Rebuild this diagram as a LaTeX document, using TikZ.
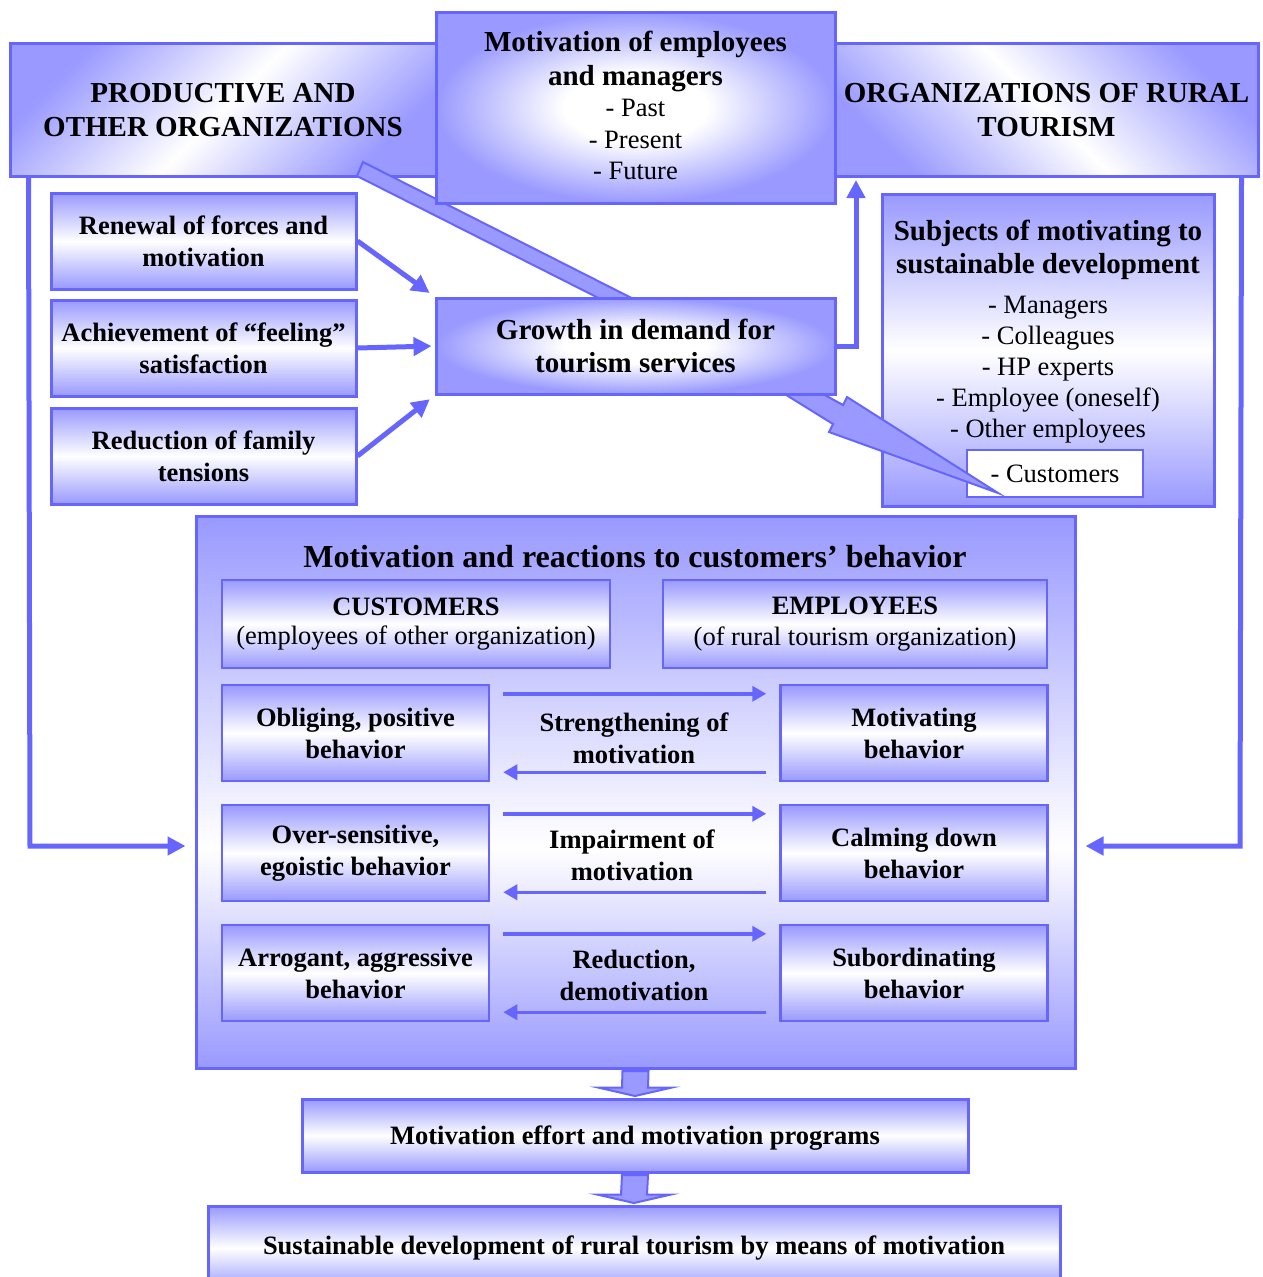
\documentclass[tikz,border=0pt]{standalone}
\usepackage{fontspec}
\setmainfont{Liberation Serif}
\usetikzlibrary{arrows.meta,calc}
\definecolor{bstroke}{RGB}{102,102,255}
\definecolor{bfill}{RGB}{153,153,255}
\pgfdeclareradialshading{softradial}{\pgfpoint{0bp}{0bp}}{color(0bp)=(white); color(9bp)=(white); color(25bp)=(bfill); color(50bp)=(bfill)}
\pgfdeclareverticalshading{bigvert}{100bp}{color(0bp)=(bfill); color(25bp)=(bfill); color(45bp)=(white); color(75bp)=(bfill); color(100bp)=(bfill)}
\newcommand{\natsp}{\spaceskip=\fontdimen2\font\relax\xspaceskip=\fontdimen2\font\relax}
\newcommand{\fHead}{\fontsize{29}{33.5}\selectfont\bfseries\natsp}
\newcommand{\fBody}{\fontsize{26.5}{32}\selectfont\bfseries\natsp}
\newcommand{\fReg}{\fontsize{26.5}{31}\selectfont\mdseries\natsp}
\begin{document}
\begin{tikzpicture}[x=1pt,y=-1pt,
  box/.style={draw=bstroke, line width=3pt, inner sep=0pt, align=center},
  vbox/.style={box, top color=bfill, bottom color=bfill, middle color=white},
  rbox/.style={box, shade, shading=softradial},
  rowbox/.style={vbox, line width=2.5pt, minimum width=267pt, minimum height=96pt, font=\fBody},
  midtext/.style={inner sep=0pt, align=center, font=\fBody},
  conn/.style={draw=bstroke, line width=5pt, -{Triangle[length=18pt,width=18pt]}},
  thinconn/.style={draw=bstroke, line width=3.5pt, -{Triangle[length=14pt,width=15pt]}},
  bandstyle/.style={draw=bstroke, line width=2pt, fill=bfill, line join=miter},
]
\useasboundingbox (0,0) rectangle (1263,1277);

\coordinate (lturn) at (30,846);
\coordinate (rturn) at (1240,846);
\coordinate (gturn) at (856,346);

% top side boxes
\node[box, shade, top color=bfill, bottom color=bfill, middle color=white, shading angle=45,
      minimum width=426pt, minimum height=133pt, font=\fHead] (ltop) at (223,110)
      {PRODUCTIVE AND\\OTHER ORGANIZATIONS};
\node[box, shade, top color=bfill, bottom color=bfill, middle color=white, shading angle=-45,
      minimum width=423pt, minimum height=133pt, font=\fHead] (rtop) at (1046.5,110)
      {ORGANIZATIONS OF RURAL\\TOURISM};

% wide band from left box to growth box
\draw[bandstyle] (363,162) -- (675,320) -- (642,320) -- (357,176) -- cycle;

% centre top box
\node[rbox, minimum width=399pt, minimum height=191pt] (mtop) at (635.5,107.5) {};
\node[anchor=north, inner sep=0pt, text width=390pt, align=center] (mtoptext) at (635.5,31)
  {{\fHead Motivation of employees\\and managers\par}{\fontsize{26.5}{31.5}\selectfont\natsp - Past\\- Present\\- Future\par}};

% left small boxes
\node[vbox, minimum width=305pt, minimum height=96pt, font=\fBody] (renew) at (203.5,241) {Renewal of forces and\\motivation};
\node[vbox, minimum width=305pt, minimum height=96pt, font=\fBody] (ach) at (203.5,348) {Achievement of “feeling”\\satisfaction};
\node[vbox, minimum width=305pt, minimum height=96pt, font=\fBody] (redu) at (203.5,456) {Reduction of family\\tensions};

% subjects box
\node[vbox, minimum width=332pt, minimum height=312pt] (subj) at (1048,350) {};
\node[anchor=north, inner sep=0pt, text width=325pt, align=center] (subjtext) at (1048,220)
  {{\fontsize{29}{33}\selectfont\bfseries\natsp Subjects of motivating to\\sustainable development\par}\vspace{9pt}{\fReg - Managers\\- Colleagues\\- HP experts\\- Employee (oneself)\\- Other employees\par}};
\node[box, line width=2pt, fill=white, minimum width=176pt, minimum height=47pt, font=\fReg] (cust) at (1055,473.5) {- Customers};

% lightning arrow from growth box to customers
\draw[bandstyle] (775,388) -- (833,424) -- (829,432) -- (998,493) -- (847,397) -- (843,405) -- (812,388) -- cycle;

% growth box
\node[rbox, minimum width=399pt, minimum height=96pt, font=\fHead] (growth) at (635.5,346) {Growth in demand for\\tourism services};

% arrows into growth
\draw[conn, shorten >=6pt] (renew.east) -- (growth.north west);
\draw[conn, shorten >=3pt] (ach.east) -- (growth.west);
\draw[conn, shorten >=6pt] (redu.east) -- (growth.south west);
\draw[conn, shorten >=2pt] (growth.east) -- (gturn) -- (gturn |- rtop.south);

% big box
\node[box, shade, shading=bigvert, minimum width=879pt, minimum height=552pt] (big) at (635.5,792) {};
\node[anchor=base, inner sep=0pt, font=\fontsize{32}{38}\selectfont\bfseries] (bigtitle) at (635,567) {Motivation and reactions to customers’ behavior};

% outer side connectors
\draw[conn, shorten >=9pt] ([xshift=20pt]ltop.south west) -- (lturn) -- (big.west |- lturn);
\draw[conn, shorten >=9pt] ([xshift=-18pt]rtop.south east) -- (rturn) -- (big.east |- rturn);

\node[vbox, line width=2.5pt, minimum width=388pt, minimum height=88pt, text width=380pt] (custh) at (416,624)
  {{\fBody CUSTOMERS\par}{\fontsize{26.5}{29.5}\selectfont\natsp (employees of other organization)\par}};
\node[vbox, line width=2.5pt, minimum width=384pt, minimum height=88pt, text width=376pt] (emph) at (855,624)
  {{\fBody EMPLOYEES\par}{\fontsize{26.5}{31}\selectfont\natsp (of rural tourism organization)\par}};

\node[rowbox] (obl) at (355.5,733) {Obliging, positive\\behavior};
\node[rowbox] (motb) at (914,733) {Motivating\\behavior};
\node[midtext] (strt) at (634,738) {Strengthening of\\motivation};

\node[rowbox] (over) at (355.5,853) {Over-sensitive,\\egoistic behavior};
\node[rowbox] (calm) at (914,853) {Calming down\\behavior};
\node[midtext] (imp) at (632,855) {Impairment of\\motivation};

\node[rowbox] (arro) at (355.5,973) {Arrogant, aggressive\\behavior};
\node[rowbox] (subo) at (914,973) {Subordinating\\behavior};
\node[midtext] (redm) at (634,975) {Reduction,\\demotivation};

\foreach \l/\r in {obl/motb, over/calm, arro/subo}{
  \draw[thinconn] ([xshift=13pt,yshift=-10pt]\l.north east) -- ([xshift=-13pt,yshift=-10pt]\r.north west);
  \draw[thinconn] ([xshift=-13pt,yshift=10pt]\r.south west) -- ([xshift=13pt,yshift=10pt]\l.south east);
}

% bottom boxes
\node[vbox, minimum width=666pt, minimum height=73pt, font=\fBody, text depth=0pt] (eff) at (635,1135.5) {Motivation effort and motivation programs};
\node[vbox, minimum width=852pt, minimum height=84pt, font=\fBody] (sus) at (634,1248) {Sustainable development of rural tourism by means of motivation};

% block arrows
\draw[bandstyle] ($(big.south)+(-13,1.5)$) -- ($(big.south)+(13,1.5)$) -- ($(eff.north)+(13,-10)$) -- ($(eff.north)+(37,-10)$)
  -- ($(eff.north)+(0,-1.5)$) -- ($(eff.north)+(-37,-10)$) -- ($(eff.north)+(-13,-10)$) -- cycle;
\draw[bandstyle] ($(eff.south)+(-13,1.5)$) -- ($(eff.south)+(13,1.5)$) -- ($(sus.north)+(13,-10)$) -- ($(sus.north)+(37,-10)$)
  -- ($(sus.north)+(0,-1.5)$) -- ($(sus.north)+(-37,-10)$) -- ($(sus.north)+(-13,-10)$) -- cycle;
\end{tikzpicture}
\end{document}
